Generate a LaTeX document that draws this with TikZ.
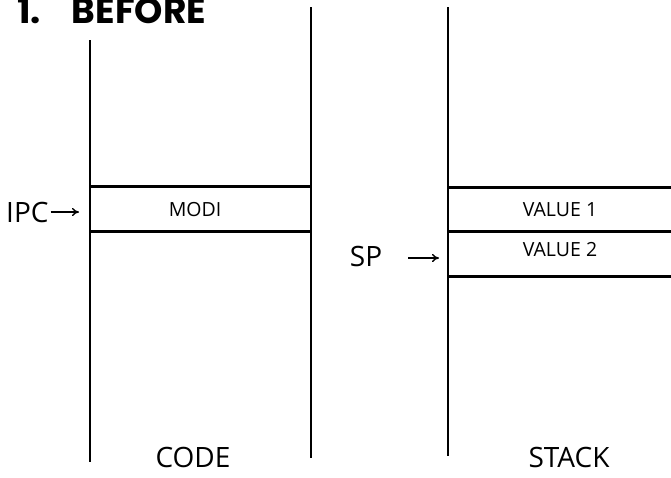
\documentclass[tikz,border=0pt]{standalone}
\usepackage{fontspec}
\setmainfont{Open Sans}
\newfontfamily\titlefont{Poppins}[UprightFont=* Bold]
\usetikzlibrary{arrows.meta,positioning}
\begin{document}
\begin{tikzpicture}[x=1pt,y=-1pt,
  wall/.style={line width=1.9pt},
  sep/.style={line width=2.8pt},
  cell/.style={inner sep=0pt,font=\fontsize{19.5}{19.5}\selectfont},
  big/.style={inner sep=0pt,font=\fontsize{28}{28}\selectfont},
  ptr/.style={-{To[length=7pt,width=8pt]},line width=1.4pt}]
\useasboundingbox (0,0) rectangle (671,477);
% title
\node[anchor=base west,inner sep=0pt,font=\titlefont\fontsize{36}{36}\selectfont] (title) at (17,23) {1.\hspace{31pt}BEFORE};
% code column walls
\coordinate (c1t) at (90,40);  \coordinate (c1b) at (90,462);
\coordinate (c2t) at (311,7);  \coordinate (c2b) at (311,458);
\draw[wall] (c1t) -- (c1b);
\draw[wall] (c2t) -- (c2b);
% stack wall
\coordinate (s1t) at (448,7); \coordinate (s1b) at (448,456);
\draw[wall] (s1t) -- (s1b);
% code cell
\node[minimum width=221pt,minimum height=44pt,inner sep=0pt] (modi) at (200.5,209) {};
\draw[sep] (modi.north west) -- (modi.north east);
\draw[sep] (modi.south west) -- (modi.south east);
\node[cell] (modit) at (195,210) {MODI};
% stack cells
\node[minimum width=223pt,minimum height=43pt,inner sep=0pt] (v1) at (559.5,209.5) {};
\node[minimum width=223pt,minimum height=45pt,inner sep=0pt] (v2) at (559.5,253.5) {};
\draw[sep] (v1.north west) -- (v1.north east);
\draw[sep] (v1.south west) -- (v1.south east);
\draw[sep] (v2.south west) -- (v2.south east);
\node[cell] (v1t) at (560,210) {VALUE 1};
\node[cell] (v2t) at (560,249.5) {VALUE 2};
% pointers
\node[big,anchor=west] (ipc) at (6,212) {IPC};
\draw[ptr] (ipc.east) ++(2,0) coordinate (ipcs) -- (ipcs -| 79,0) coordinate (ipce);
\node[big] (sp) at (366,256) {SP};
\coordinate (spe) at (439,258);
\draw[ptr] (408,258) -- (spe);
% labels
\node[big] (code) at (193,457) {CODE};
\node[big] (stack) at (569,457) {STACK};
\end{tikzpicture}
\end{document}
